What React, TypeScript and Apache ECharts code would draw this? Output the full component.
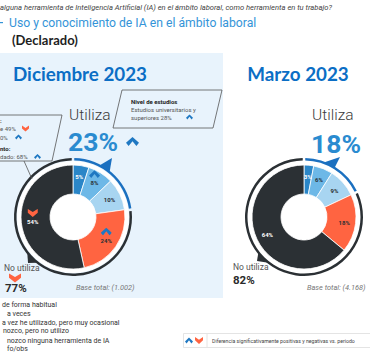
import React, { useEffect, useRef } from "react";
import * as echarts from "echarts";

const categories = [
  "Utilizo de forma habitual",
  "Utilizo a veces",
  "Alguna vez he utilizado, pero muy ocasional",
  "La conozco, pero no utilizo",
  "No conozco ninguna herramienta de IA",
];
const decValues = [5, 8, 10, 24, 54];
const marValues = [3, 6, 9, 18, 64];
const decChange = ["", "up", "", "up", "down"];
const marChange = ["", "", "", "", ""];
const useLabels = ["Utiliza", "No utiliza"];
const decUse = [23, 77];
const marUse = [18, 82];
const periods = ["Diciembre 2023", "Marzo 2023"];
const baseTotals = ["Base total: (1.002)", "Base total: (4.168)"];
const legendLines = [
  "de forma habitual",
  "a veces",
  "a vez he utilizado, pero muy ocasional",
  "nozco, pero no utilizo",
  "nozco ninguna herramienta de IA",
  "fo/obs",
];

const segColors = ["#2a86c8", "#6db8e7", "#a8d5f1", "#ff6441", "#2b3034"];
const labelColors = ["#ffffff", "#2b3034", "#2b3034", "#2b3034", "#ffffff"];
const ringColors = ["#1b70c0", "#2b3034"];
const BLUE = "#1f78c2";
const ORANGE = "#ff6441";
const FONT = "Roboto, 'Open Sans', sans-serif";
const HFONT = "Lato, Roboto, sans-serif";

const svgUrl = (s: string) => "data:image/svg+xml;charset=utf-8," + encodeURIComponent(s);
const upUrl = svgUrl(
  `<svg xmlns='http://www.w3.org/2000/svg' width='10' height='7' viewBox='0 0 10 7'><polygon points='0,4.6 5,0 10,4.6 8,7 5,3.3 2,7' fill='${BLUE}'/></svg>`
);
const downUrl = svgUrl(
  `<svg xmlns='http://www.w3.org/2000/svg' width='10' height='8' viewBox='0 0 10 8'><polygon points='0,0 5,3.2 10,0 10,3.8 5,8 0,3.8' fill='${ORANGE}'/></svg>`
);

const chevUp = (x: number, y: number, w: number, h: number, z = 20) => ({
  type: "polygon",
  z,
  shape: {
    points: [
      [x, y + h * 0.65],
      [x + w / 2, y],
      [x + w, y + h * 0.65],
      [x + w * 0.8, y + h],
      [x + w / 2, y + h * 0.47],
      [x + w * 0.2, y + h],
    ],
  },
  style: { fill: BLUE },
});
const chevDown = (x: number, y: number, w: number, h: number, z = 20) => ({
  type: "polygon",
  z,
  shape: {
    points: [
      [x, y],
      [x + w / 2, y + h * 0.4],
      [x + w, y],
      [x + w, y + h * 0.48],
      [x + w / 2, y + h],
      [x, y + h * 0.48],
    ],
  },
  style: { fill: ORANGE },
});

const txt = (
  x: number,
  y: number,
  text: string,
  fontSize: number,
  fill: string,
  extra: any = {}
) => ({
  type: "text",
  x,
  y,
  z: 20,
  style: {
    text,
    fontSize,
    fill,
    fontFamily: FONT,
    verticalAlign: "middle",
    align: "left",
    ...extra,
  },
});

const CENTERS: [number, number][] = [
  [73, 217],
  [304, 217],
];
const R_IN = 23;
const R_OUT = 52;

function donut(values: number[], change: string[], center: [number, number]) {
  return {
    type: "pie",
    center,
    radius: [R_IN, R_OUT],
    startAngle: 90,
    clockwise: true,
    silent: true,
    z: 3,
    avoidLabelOverlap: false,
    itemStyle: { borderColor: "#ffffff", borderWidth: 0.8 },
    labelLine: { show: false },
    label: {
      show: true,
      position: "inside",
      fontSize: 6,
      fontWeight: "bold",
      fontFamily: FONT,
      formatter: (p: any) => {
        const c = change[p.dataIndex];
        const v = `{v|${p.value}%}`;
        return c ? `{${c}|}\n${v}` : v;
      },
      rich: {
        up: { backgroundColor: { image: upUrl }, width: 11, height: 8 },
        down: { backgroundColor: { image: downUrl }, width: 11, height: 8 },
        v: { fontSize: 6, fontWeight: "bold", lineHeight: 9 },
      },
    },
    data: values.map((v, i) => ({
      value: v,
      name: categories[i],
      itemStyle: { color: segColors[i] },
      label: change[i]
        ? { color: labelColors[i], padding: [0, 0, 8, 0] }
        : { color: labelColors[i] },
    })),
  };
}

function ring(values: number[], center: [number, number]) {
  return {
    type: "pie",
    center,
    radius: [56.5, 59],
    startAngle: 90,
    clockwise: true,
    silent: true,
    padAngle: 2.5,
    z: 2,
    label: { show: false },
    labelLine: { show: false },
    data: values.map((v, i) => ({
      value: v,
      name: useLabels[i],
      itemStyle: { color: ringColors[i] },
    })),
  };
}

function ptOnRing(c: [number, number], r: number, deg: number) {
  const a = (deg * Math.PI) / 180;
  return [c[0] + r * Math.sin(a), c[1] - r * Math.cos(a)];
}

function pointers(c: [number, number], bluePct: number, apexBlue: number[], apexBlack: number[]) {
  const a1 = bluePct * 0.4;
  const b1 = ptOnRing(c, 58, a1 * 3.6 - 6);
  const b2 = ptOnRing(c, 58, a1 * 3.6 + 6);
  const k1 = ptOnRing(c, 58, 218);
  const k2 = ptOnRing(c, 58, 232);
  return [
    { type: "polygon", z: 5, shape: { points: [b1, apexBlue, b2] }, style: { fill: ringColors[0] } },
    { type: "polygon", z: 5, shape: { points: [k1, apexBlack, k2] }, style: { fill: ringColors[1] } },
  ];
}

export default function App() {
  const ref = useRef<HTMLDivElement>(null);
  useEffect(() => {
    if (!ref.current) return;
    const chart = echarts.init(ref.current, undefined, { renderer: "svg" });
    const graphics: any[] = [
      { type: "rect", z: 0, shape: { x: 0, y: 53, width: 223, height: 245 }, style: { fill: "#e8f3fc" } },
      { type: "circle", z: 1, shape: { cx: CENTERS[0][0], cy: CENTERS[0][1], r: 56 }, style: { fill: "#ffffff" } },
      { type: "circle", z: 1, shape: { cx: CENTERS[1][0], cy: CENTERS[1][1], r: 56 }, style: { fill: "#ffffff" } },
      txt(0, 7, "alguna herramienta de Inteligencia Artificial (IA) en el ámbito laboral, como herramienta en tu trabajo?", 7.6, "#444444", { fontStyle: "italic" }),
      { type: "rect", z: 20, shape: { x: 0, y: 22, width: 3, height: 1.2 }, style: { fill: "#3494d8" } },
      txt(9, 22.5, "Uso y conocimiento de IA en el ámbito laboral", 12.2, "#3494d8"),
      txt(12, 39.5, "(Declarado)", 13, "#1e1e1e", { fontWeight: "bold", fontFamily: HFONT }),
      txt(80, 73.5, periods[0], 18.8, "#0b6ec5", { fontWeight: "bold", fontFamily: HFONT, align: "center" }),
      txt(298, 73.5, periods[1], 18.8, "#0b6ec5", { fontWeight: "bold", fontFamily: HFONT, align: "center" }),
      txt(69, 115, useLabels[0], 15.5, "#3a3a3a", { fontWeight: 300 }),
      txt(68, 141, decUse[0] + "%", 26.5, "#2a8bd0", { fontWeight: "bold" }),
      chevUp(126, 137, 13, 9),
      txt(312, 115, useLabels[0], 15.5, "#3a3a3a", { fontWeight: 300 }),
      txt(311, 143, marUse[0] + "%", 26.5, "#2a8bd0", { fontWeight: "bold" }),
      // Nivel de estudios box
      { type: "polygon", z: 20, shape: { points: [[122, 90], [222, 90], [213, 128], [113, 128]] }, style: { fill: "none", stroke: "#555555", lineWidth: 0.8 } },
      txt(131, 101, "Nivel de estudios", 6, "#222222", { fontWeight: "bold" }),
      txt(131, 109, "Estudios universitarios y", 6, "#555555"),
      txt(131, 117.5, "superiores 28%", 6, "#555555"),
      chevUp(186, 114.5, 7, 5),
      // left box
      { type: "polygon", z: 20, shape: { points: [[-2, 115], [62, 115], [52, 161], [-2, 161]] }, style: { fill: "none", stroke: "#555555", lineWidth: 0.8 } },
      { type: "line", z: 20, shape: { x1: 24, y1: 161, x2: 32, y2: 179 }, style: { stroke: "#555555", lineWidth: 0.8 } },
      txt(0, 120.5, ":", 6, "#333333", { fontWeight: "bold" }),
      txt(0, 128.5, "e 49%", 6, "#555555"),
      chevDown(22, 125.5, 7, 6),
      txt(0, 137, "0%", 6, "#555555"),
      chevUp(15, 134.5, 7, 5),
      txt(0, 148, "nto:", 6, "#222222", { fontWeight: "bold" }),
      txt(0, 156.5, "dado: 68%", 6, "#555555"),
      chevUp(34, 154, 7, 5),
      // No utiliza
      txt(4, 268, useLabels[1], 8.5, "#555555"),
      chevDown(9, 273.5, 12, 9),
      txt(5, 288, decUse[1] + "%", 11.5, "#2b2b2b", { fontWeight: "bold" }),
      txt(233, 267, useLabels[1], 8.5, "#555555"),
      txt(233, 279.5, marUse[1] + "%", 11.5, "#2b2b2b", { fontWeight: "bold" }),
      txt(76, 287, baseTotals[0], 7.4, "#777777", { fontStyle: "italic" }),
      txt(307, 287, baseTotals[1], 7.4, "#777777", { fontStyle: "italic" }),
      ...pointers(CENTERS[0], decUse[0], [112, 158], [28, 263]),
      ...pointers(CENTERS[1], marUse[0], [340, 157], [257, 261]),
      // bottom legend
      ...legendLines.map((l, i) =>
        txt([2, 7, 2, 3, 7, 7][i], [305, 313.5, 322.5, 331, 340.5, 349][i], l, 7, "#333333")
      ),
      { type: "rect", z: 19, shape: { x: 183.5, y: 333.5, width: 190, height: 14 }, style: { fill: "#ffffff", stroke: "#dddddd", lineWidth: 0.8 } },
      chevUp(185, 337.5, 8, 6),
      chevDown(195, 337, 8, 7),
      { type: "line", z: 20, shape: { x1: 207, y1: 334, x2: 207, y2: 347 }, style: { stroke: "#dddddd", lineWidth: 0.8 } },
      txt(212, 340.5, "Diferencia significativamente positivas y negativas vs. periodo", 5.2, "#444444"),
    ];

    chart.setOption({
      animation: false,
      backgroundColor: "#ffffff",
      graphic: { elements: graphics },
      series: [
        ring(decUse, CENTERS[0]),
        ring(marUse, CENTERS[1]),
        donut(decValues, decChange, CENTERS[0]),
        donut(marValues, marChange, CENTERS[1]),
      ],
    });
    return () => chart.dispose();
  }, []);
  return (
    <div
      ref={ref}
      style={{ position: "absolute", left: 0, top: 0, width: 370, height: 355 }}
    />
  );
}
